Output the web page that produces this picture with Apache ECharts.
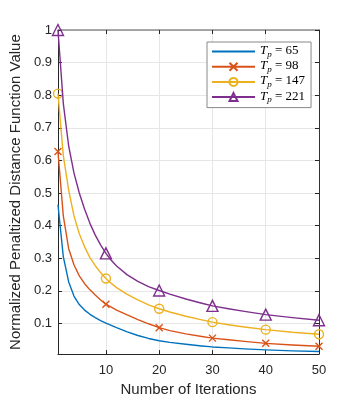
<!DOCTYPE html>
<html>
<head>
<meta charset="utf-8">
<script src="https://cdn.jsdelivr.net/npm/echarts@6/dist/echarts.min.js"></script>
<style>
  html, body { margin: 0; padding: 0; background: #fff; }
  #chart { width: 354px; height: 402px; }
</style>
</head>
<body>
<div id="chart"></div>
<script>
// iterations where values were read
const iters = [1, 2, 3, 4, 5, 6, 7, 8, 9, 10, 11, 12, 14, 16, 18, 20, 22, 25, 28, 30, 33, 36, 40, 45, 50];
const tp65  = [0.464, 0.305, 0.228, 0.184, 0.158, 0.141, 0.128, 0.118, 0.109, 0.101, 0.094, 0.087,
               0.074, 0.063, 0.054, 0.047, 0.042, 0.036, 0.031, 0.028, 0.025, 0.022, 0.019, 0.016, 0.014];
const tp98  = [0.627, 0.430, 0.330, 0.280, 0.246, 0.222, 0.203, 0.187, 0.172, 0.159, 0.150, 0.141,
               0.126, 0.112, 0.099, 0.087, 0.078, 0.068, 0.060, 0.055, 0.050, 0.045, 0.039, 0.034, 0.030];
const tp147 = [0.805, 0.615, 0.510, 0.430, 0.375, 0.335, 0.302, 0.277, 0.256, 0.238, 0.223, 0.210,
               0.189, 0.172, 0.157, 0.145, 0.135, 0.122, 0.111, 0.104, 0.096, 0.089, 0.081, 0.073, 0.067];
const tp221 = [1.000, 0.775, 0.645, 0.562, 0.500, 0.450, 0.407, 0.371, 0.341, 0.315, 0.294, 0.276,
               0.249, 0.229, 0.213, 0.201, 0.190, 0.175, 0.162, 0.154, 0.145, 0.137, 0.127, 0.118, 0.110];
const tpValues = [65, 98, 147, 221];
const markerIters = [1, 10, 20, 30, 40, 50];
const xTicks = [10, 20, 30, 40, 50];
const yTicks = [0.1, 0.2, 0.3, 0.4, 0.5, 0.6, 0.7, 0.8, 0.9, 1];

const colors = ['#0072BD', '#D95319', '#EDB120', '#7E2F8E'];
const symbols = ['none', 'path://M0,0L10,10M0,10L10,0', 'circle', 'triangle'];
const sizes = [0, 7, 9, 11];
const allValues = [tp65, tp98, tp147, tp221];

const chart = echarts.init(document.getElementById('chart'));

const series = allValues.map((vals, k) => ({
  name: 'Tp = ' + tpValues[k],
  type: 'line',
  data: iters.map((x, i) => [x, vals[i]]),
  symbol: symbols[k],
  showSymbol: k > 0,
  showAllSymbol: true,
  symbolSize: (v) => markerIters.includes(v[0]) ? sizes[k] : 0,
  lineStyle: { color: colors[k], width: 1.4, join: 'round' },
  itemStyle: { color: 'rgba(0,0,0,0)', borderColor: colors[k], borderWidth: k > 0 ? 1.4 : 0 },
  emphasis: { disabled: true },
  z: 2 + k
}));

const axisFont = { fontFamily: 'Liberation Sans, Arial, sans-serif', fontSize: 13, color: '#262626' };
const nameFont = { fontFamily: 'Liberation Sans, Arial, sans-serif', fontSize: 15, color: '#262626' };
const serif = 'Liberation Serif, serif';

const option = {
  animation: false,
  backgroundColor: '#fff',
  grid: { left: 48, right: 35, top: 30, bottom: 45, containLabel: false },
  legend: {
    left: 207, top: 42,
    orient: 'vertical',
    backgroundColor: '#fff',
    borderColor: '#888',
    borderWidth: 1,
    borderRadius: 0,
    padding: [2, 6, 3, 4],
    itemGap: 0.2,
    itemWidth: 43,
    itemHeight: 10,
    data: series.map(s => s.name),
    formatter: (name) => {
      const k = series.findIndex(s => s.name === name);
      return '{t|T}{s|p}{n| = ' + tpValues[k] + '}';
    },
    textStyle: {
      color: '#000',
      rich: {
        t: { fontFamily: serif, fontStyle: 'italic', fontSize: 13, lineHeight: 15, verticalAlign: 'top' },
        s: { fontFamily: serif, fontStyle: 'italic', fontSize: 9, lineHeight: 7, verticalAlign: 'bottom' },
        n: { fontFamily: serif, fontSize: 13, lineHeight: 15, verticalAlign: 'top' }
      }
    }
  },
  xAxis: [{
    type: 'value', min: 1, max: 50,
    name: 'Number of Iterations', nameLocation: 'middle', nameGap: 26,
    nameTextStyle: nameFont,
    axisLine: { lineStyle: { color: '#262626', width: 1 } },
    axisTick: { inside: true, length: 4, customValues: xTicks, lineStyle: { color: '#262626' } },
    axisLabel: Object.assign({ margin: 10, customValues: xTicks }, axisFont),
    splitLine: { show: true, lineStyle: { color: '#e6e6e6', width: 1 } }
  }, {
    type: 'value', min: 1, max: 50, position: 'top',
    axisLine: { show: true, lineStyle: { color: '#8c8c8c', width: 1.5 } },
    axisTick: { inside: true, length: 4, customValues: xTicks, lineStyle: { color: '#262626' } },
    axisLabel: { show: false },
    splitLine: { show: false }
  }],
  yAxis: [{
    type: 'value', min: 0.006, max: 1,
    name: 'Normalized Penaltized Distance Function Value', nameLocation: 'middle', nameGap: 32,
    nameTextStyle: nameFont,
    axisLine: { show: true, lineStyle: { color: '#262626', width: 1 } },
    axisTick: { show: true, inside: true, length: 4, customValues: yTicks, lineStyle: { color: '#262626' } },
    axisLabel: Object.assign({ margin: 6, customValues: yTicks }, axisFont),
    splitLine: { show: true, lineStyle: { color: '#e6e6e6', width: 1 } }
  }, {
    type: 'value', min: 0.006, max: 1, position: 'right',
    axisLine: { show: true, lineStyle: { color: '#333', width: 1 } },
    axisTick: { show: true, inside: true, length: 4, customValues: yTicks, lineStyle: { color: '#262626' } },
    axisLabel: { show: false },
    splitLine: { show: false }
  }],
  series: series
};

option && chart.setOption(option);
</script>
</body>
</html>
